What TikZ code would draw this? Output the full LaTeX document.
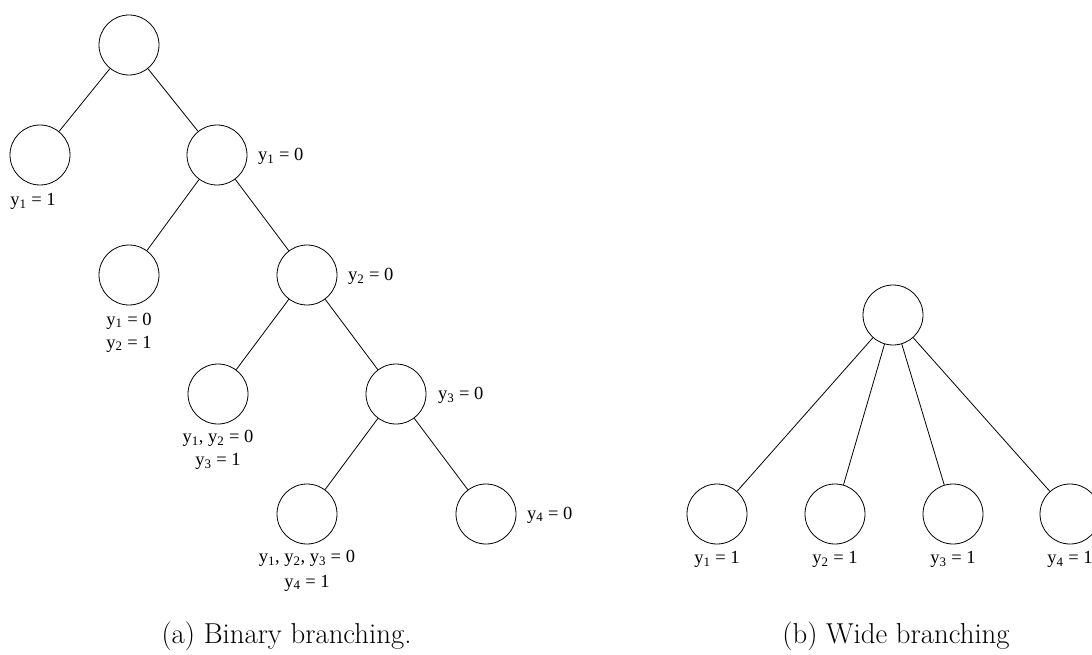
\documentclass[tikz,border=0pt]{standalone}
\usepackage{fontspec}
\newfontfamily\tms{Liberation Serif}
\newcommand\yy[1]{y\textsubscript{#1}}
\begin{document}
\begin{tikzpicture}[x=1pt,y=-1pt,
  vert/.style={circle,draw,line width=0.8pt,minimum size=60pt,inner sep=0pt},
  lab/.style={font=\tms\fontsize{18.5}{22}\selectfont,inner sep=0pt,anchor=base},
  rlab/.style={font=\tms\fontsize{18.5}{22}\selectfont,inner sep=0pt,anchor=base west},
  conn/.style={line width=0.8pt},
  capt/.style={font=\fontsize{28.8}{32}\selectfont,inner sep=0pt,anchor=base}]
\useasboundingbox (0,0) rectangle (1092,655);
% binary tree
\node[vert] (r0) at (129,45) {};
\node[vert] (l1) at (40,155) {};
\node[vert] (r1) at (217,155) {};
\node[vert] (l2) at (129,275) {};
\node[vert] (r2) at (307,275) {};
\node[vert] (l3) at (218,394) {};
\node[vert] (r3) at (396,394) {};
\node[vert] (l4) at (307,514) {};
\node[vert] (r4) at (486,514) {};
\draw[conn] (r0) -- (l1);
\draw[conn] (r0) -- (r1);
\draw[conn] (r1) -- (l2);
\draw[conn] (r1) -- (r2);
\draw[conn] (r2) -- (l3);
\draw[conn] (r2) -- (r3);
\draw[conn] (r3) -- (l4);
\draw[conn] (r3) -- (r4);
\node[lab] (tl1) at (33,206) {\yy{1} = 1};
\node[rlab] (tr1) at (258,160.5) {\yy{1} = 0};
\node[lab] (tl2a) at (129,325) {\yy{1} = 0};
\node[lab] (tl2b) at (129,348) {\yy{2} = 1};
\node[rlab] (tr2) at (348,280.5) {\yy{2} = 0};
\node[lab] (tl3a) at (218,442.5) {\yy{1}, \yy{2} = 0};
\node[lab] (tl3b) at (218,465.5) {\yy{3} = 1};
\node[rlab] (tr3) at (438,399.5) {\yy{3} = 0};
\node[lab] (tl4a) at (307,562.5) {\yy{1}, \yy{2}, \yy{3} = 0};
\node[lab] (tl4b) at (307,587) {\yy{4} = 1};
\node[rlab] (tr4) at (527,519) {\yy{4} = 0};
% wide tree
\node[vert] (w0) at (893,315) {};
\node[vert] (w1) at (717,514) {};
\node[vert] (w2) at (835,514) {};
\node[vert] (w3) at (953,514) {};
\node[vert] (w4) at (1070,514) {};
\draw[conn] (w0) -- (w1);
\draw[conn] (w0) -- (w2);
\draw[conn] (w0) -- (w3);
\draw[conn] (w0) -- (w4);
\node[lab] (tw1) at (717,563.5) {\yy{1} = 1};
\node[lab] (tw2) at (835,563.5) {\yy{2} = 1};
\node[lab] (tw3) at (953,563.5) {\yy{3} = 1};
\node[lab] (tw4) at (1070,563.5) {\yy{4} = 1};
% captions
\node[capt] (ca) at (286.5,643) {(a) Binary branching.};
\node[capt] (cb) at (896,643) {(b) Wide branching};
\end{tikzpicture}
\end{document}
